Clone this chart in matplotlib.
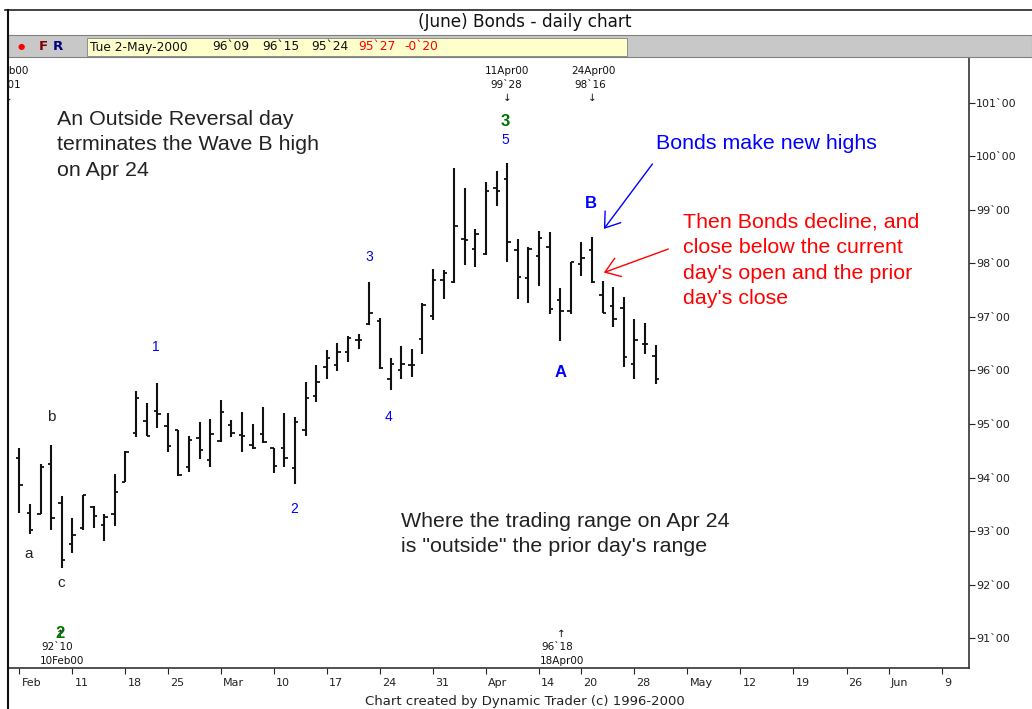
import matplotlib
matplotlib.use("Agg")
import matplotlib.pyplot as plt
import matplotlib.transforms as mtransforms
from matplotlib.lines import Line2D
from matplotlib.patches import Rectangle
import pandas as pd

# ---------------- data ----------------
holidays = ["2000-02-21", "2000-04-21", "2000-05-29"]
first_day = "2000-02-04"
last_axis_day = "2000-06-30"

# daily OHLC, 4-Feb-2000 .. 2-May-2000 (61 trading days)
opens = [94.37, 93.34, 93.31, 94.25, 93.52, 92.75, 93.05, 93.45, 93.11, 93.32,
         93.92, 94.84, 95.06, 95.25, 94.96, 94.89, 94.19, 94.73, 94.33, 94.69,
         94.98, 94.79, 94.61, 94.81, 94.56, 94.55, 94.17, 94.89, 95.52, 96.07,
         96.11, 96.35, 96.57, 96.86, 96.93, 95.84, 96.01, 96.10, 96.59, 97.01,
         97.70, 97.66, 98.45, 98.27, 98.17, 99.41, 99.58, 98.25, 97.73, 98.14,
         98.30, 97.32, 97.11, 97.99, 98.25, 97.42, 97.21, 97.16, 96.13, 96.50,
         96.28]
highs = [94.56, 93.50, 94.25, 94.61, 93.65, 93.24, 93.67, 93.47, 93.31, 94.07,
         94.50, 95.62, 95.40, 95.77, 95.20, 94.89, 94.78, 95.04, 95.09, 95.44,
         95.07, 95.23, 95.00, 95.32, 94.56, 95.21, 95.13, 95.79, 96.11, 96.39,
         96.52, 96.64, 96.68, 97.66, 96.98, 96.24, 96.45, 96.40, 97.27, 97.89,
         97.87, 99.78, 99.41, 98.64, 99.52, 99.72, 99.875, 98.45, 98.30, 98.61,
         98.58, 97.54, 98.03, 98.41, 98.50, 97.68, 97.56, 97.37, 96.96, 96.88,
         96.47]
lows = [93.33, 92.94, 93.31, 93.02, 92.31, 92.58, 93.02, 93.05, 92.81, 93.10,
        93.91, 94.75, 94.78, 94.93, 94.47, 94.03, 94.11, 94.34, 94.19, 94.67,
        94.76, 94.47, 94.53, 94.64, 94.08, 94.19, 93.87, 94.78, 95.42, 95.84,
        95.99, 96.16, 96.40, 96.85, 96.02, 95.64, 95.84, 95.88, 96.30, 96.94,
        97.33, 97.63, 97.97, 97.93, 98.16, 99.08, 98.02, 97.33, 97.27, 97.57,
        97.06, 96.56, 97.06, 97.77, 97.63, 97.07, 96.82, 96.07, 95.85, 96.31,
        95.75]
closes = [93.86, 93.02, 94.20, 93.24, 92.46, 92.93, 93.67, 93.29, 93.27, 93.72,
          94.48, 95.49, 94.78, 95.18, 94.59, 94.05, 94.70, 94.51, 94.81, 95.23,
          94.84, 94.78, 94.55, 94.66, 94.21, 94.36, 95.04, 95.48, 95.79, 96.23,
          96.35, 96.60, 96.57, 97.08, 96.04, 96.12, 96.13, 96.10, 97.22, 97.70,
          97.83, 98.70, 98.43, 98.55, 99.36, 99.36, 98.40, 97.75, 98.27, 98.47,
          97.15, 97.11, 98.02, 98.10, 97.65, 97.08, 96.96, 96.26, 96.57, 96.50,
          95.84]

tick_dates = ["2000-02-04", "2000-02-11", "2000-02-18", "2000-02-25", "2000-03-03",
              "2000-03-10", "2000-03-17", "2000-03-24", "2000-03-31", "2000-04-07",
              "2000-04-14", "2000-04-20", "2000-04-28", "2000-05-05", "2000-05-12",
              "2000-05-19", "2000-05-26", "2000-06-02", "2000-06-09"]
tick_labels = ["Feb", "11", "18", "25", "Mar", "10", "17", "24", "31", "Apr",
               "14", "20", "28", "May", "12", "19", "26", "Jun", "9"]
price_ticks = [91, 92, 93, 94, 95, 96, 97, 98, 99, 100, 101]

# trading-day calendar -> index positions
cal = [d for d in pd.bdate_range(first_day, last_axis_day)
       if d.strftime("%Y-%m-%d") not in holidays]
pos = {d.strftime("%Y-%m-%d"): i for i, d in enumerate(cal)}
xs = list(range(len(opens)))
tick_pos = [pos[d] for d in tick_dates]

# ---------------- figure ----------------
W, H = 1032, 709
fig = plt.figure(figsize=(W / 100, H / 100), dpi=100)
fig.patch.set_facecolor("white")

def fx(px):
    return px / W

def fy(py):
    return 1 - py / H

ax_l, ax_r, ax_t, ax_b = 8, 969, 58, 668
ax = fig.add_axes([fx(ax_l), fy(ax_b), fx(ax_r - ax_l), (ax_b - ax_t) / H])
ax.set_xlim(-1.07, 89.55)
ax.set_ylim(90.44, 101.84)

# OHLC bars
bar_col = "#111111"
ax.vlines(xs, lows, highs, color=bar_col, lw=1.5)
ax.hlines(opens, [x - 0.32 for x in xs], xs, color=bar_col, lw=1.3)
ax.hlines(closes, xs, [x + 0.32 for x in xs], color=bar_col, lw=1.3)

# axes styling
for s in ["top", "left"]:
    ax.spines[s].set_visible(False)
ax.spines["right"].set_color("#333333")
ax.spines["bottom"].set_color("#333333")
ax.spines["right"].set_linewidth(1.2)
ax.spines["bottom"].set_linewidth(1.2)
ax.yaxis.tick_right()
ax.set_yticks(price_ticks)
ax.set_yticklabels([f"{p}`00" for p in price_ticks])
ax.tick_params(axis="y", direction="out", length=4, width=0.8, pad=1,
               labelsize=8, colors="#222222")
ax.set_xticks(tick_pos)
ax.set_xticklabels(tick_labels)
ax.tick_params(axis="x", direction="out", length=4, width=0.8, pad=3,
               labelsize=8, colors="#222222")
off = mtransforms.ScaledTranslation(1.5 / 72, 0, fig.dpi_scale_trans)
for lab in ax.get_xticklabels():
    lab.set_horizontalalignment("left")
    lab.set_transform(lab.get_transform() + off)

# ---------------- annotations ----------------
sans = "Liberation Sans"
big = 15.4
ax.text(3.56, 100.87, "An Outside Reversal day\nterminates the Wave B high\non Apr 24",
        family=sans, fontsize=big, va="top", ha="left", linespacing=1.42, color="#222222")
ax.text(60.08, 100.25, "Bonds make new highs", family=sans, fontsize=big,
        va="center", ha="left", color="#0000ff")
ax.text(62.6, 98.944, "Then Bonds decline, and\nclose below the current\nday's open and the prior\nday's close",
        family=sans, fontsize=big, va="top", ha="left", linespacing=1.42, color="#ff0000")
ax.text(35.98, 93.355, "Where the trading range on Apr 24\nis \"outside\" the prior day's range",
        family=sans, fontsize=big, va="top", ha="left", linespacing=1.42, color="#222222")

# wave labels
for lx, ly, t in [(12.83, 96.44, "1"), (25.87, 93.41, "2"), (32.96, 98.12, "3"),
                  (34.85, 95.13, "4"), (45.81, 100.31, "5")]:
    ax.text(lx, ly, t, family=sans, fontsize=10, color="#0000ff", ha="center", va="center")
ax.text(45.81, 100.66, "3", family=sans, fontsize=12, fontweight="bold",
        color="#007000", ha="center", va="center")
ax.text(51.01, 95.97, "A", family=sans, fontsize=12, fontweight="bold",
        color="#0000ff", ha="center", va="center")
ax.text(53.94, 99.13, "B", family=sans, fontsize=12, fontweight="bold",
        color="#0000ff", ha="center", va="center")
for lx, ly, t in [(0.92, 92.57, "a"), (3.0, 95.13, "b"), (3.94, 92.03, "c")]:
    ax.text(lx, ly, t, family=sans, fontsize=11, color="#222222", ha="center", va="center")

# price / date markers
small = dict(fontsize=7.5, color="#111111", ha="center", va="center")
ax.text(46.0, 101.60, "11Apr00", **small)
ax.text(45.91, 101.34, "99`28", **small)
ax.text(46.0, 101.09, "\u2193", **small)
ax.text(54.13, 101.60, "24Apr00", **small)
ax.text(53.85, 101.34, "98`16", **small)
ax.text(54.04, 101.09, "\u2193", **small)
ax.text(-1.25, 101.60, "03Feb00", clip_on=True, **small)
ax.text(-1.3, 101.34, "94`01", clip_on=True, **small)
ax.text(-1.0, 101.09, "\u2193", clip_on=True, **small)
ax.text(51.1, 91.07, "\u2191", **small)
ax.text(50.73, 90.83, "96`18", **small)
ax.text(51.2, 90.57, "18Apr00", **small)
ax.text(3.85, 91.07, "\u2191", **small)
ax.text(3.56, 90.83, "92`10", **small)
ax.text(4.04, 90.57, "10Feb00", **small)
ax.text(3.85, 91.09, "2", family=sans, fontsize=12, fontweight="bold",
        color="#007000", ha="center", va="center")

# arrows
ax.annotate("", xy=(55.12, 98.645), xytext=(59.7, 99.86),
            arrowprops=dict(arrowstyle="->,head_length=0.5,head_width=0.35",
                            color="#0000ff", lw=1.0, mutation_scale=20,
                            shrinkA=0, shrinkB=0))
ax.annotate("", xy=(55.12, 97.83), xytext=(61.2, 98.27),
            arrowprops=dict(arrowstyle="->,head_length=0.5,head_width=0.35",
                            color="#ff0000", lw=1.0, mutation_scale=20,
                            shrinkA=0, shrinkB=0))

# ---------------- window chrome ----------------
fig.add_artist(Line2D([fx(5), fx(W)], [fy(10), fy(10)], color="#222222", lw=1.2))
fig.add_artist(Line2D([fx(8), fx(8)], [fy(10), fy(H)], color="#111111", lw=1.5))
fig.add_artist(Rectangle((fx(8), fy(57)), fx(W - 8), (57 - 35) / H,
                         facecolor="#c8c8c8", edgecolor="#808080", lw=0.8))
fig.add_artist(Rectangle((fx(87), fy(56)), fx(627 - 87), (56 - 38) / H,
                         facecolor="#ffffcc", edgecolor="#808080", lw=0.6))
fig.text(fx(525), fy(22), "(June) Bonds - daily chart", fontsize=12.2,
         ha="center", va="center", color="#111111")
fig.text(fx(21), fy(46), "\u25cf", fontsize=6, color="#ff0000", ha="center", va="center")
fig.text(fx(43), fy(46), "F", fontsize=9.5, fontweight="bold", color="#800000",
         ha="center", va="center")
fig.text(fx(58), fy(46), "R", fontsize=9.5, fontweight="bold", color="#000080",
         ha="center", va="center")
for px, t, c in [(90, "Tue 2-May-2000", "#111111"), (212, "96`09", "#111111"),
                 (262, "96`15", "#111111"), (311, "95`24", "#111111"),
                 (358, "95`27", "#ff0000"), (404, "-0`20", "#ff0000")]:
    fig.text(fx(px), fy(47), t, fontsize=8.8, color=c, ha="left", va="center")
fig.text(fx(525), fy(701), "Chart created by Dynamic Trader (c) 1996-2000",
         fontsize=9.5, ha="center", va="center", color="#222222")

fig.savefig("out.png", dpi=100)
